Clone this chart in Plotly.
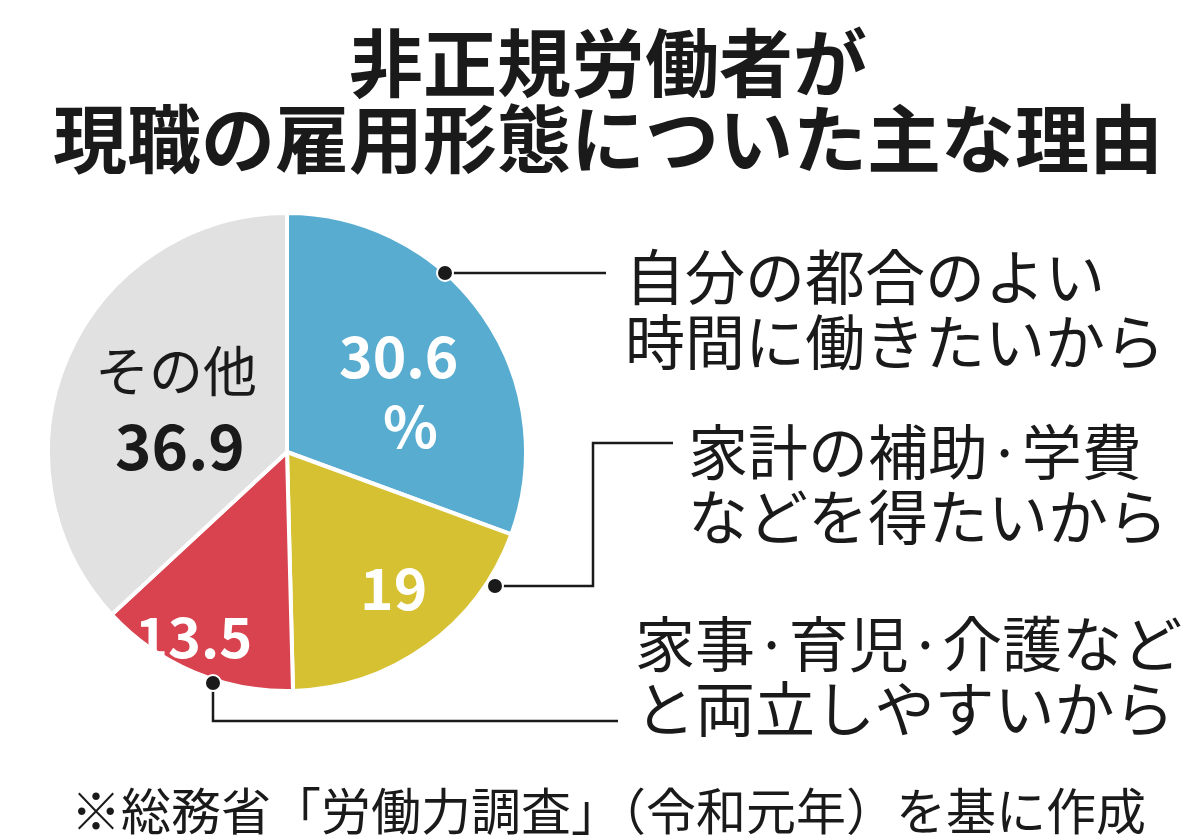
import plotly.graph_objects as go

W, H = 1200, 838
categories = ["自分の都合のよい時間に働きたいから", "家計の補助・学費などを得たいから", "家事・育児・介護などと両立しやすいから", "その他"]
values = [30.6, 19, 13.5, 36.9]
colors = ["#58acd0", "#d6c133", "#d8434f", "#e1e1e1"]

def px(x, y):
    return x / W, 1 - y / H

fig = go.Figure(go.Pie(
    labels=categories, values=values, sort=False, direction="clockwise", rotation=0,
    marker=dict(colors=colors, line=dict(color="white", width=4)),
    textinfo="none", hoverinfo="label+value",
    domain=dict(x=[40 / W, 518 / W], y=[1 - 684 / H, 1 - 204 / H]),
    showlegend=False,
))

F = "Noto Sans CJK JP"
ann = []
def text(x, y, s, size, color="#1a1a1a", bold=False, anchor="center"):
    xx, yy = px(x, y)
    ann.append(dict(x=xx, y=yy, xref="paper", yref="paper", text=f"<b>{s}</b>" if bold else s,
                    showarrow=False, xanchor=anchor, yanchor="middle",
                    font=dict(family=F, size=size, color=color)))

text(600, 50, "非正規労働者が", 74, bold=True)
text(600, 127, "現職の雇用形態についた主な理由", 74, bold=True)
text(615, 265, "自分の都合のよい", 60, anchor="left")
text(615, 330, "時間に働きたいから", 60, anchor="left")
text(678, 440, "家計の補助·学費", 60, anchor="left")
text(678, 505, "などを得たいから", 60, anchor="left")
text(625, 632, "家事·育児·介護など", 60, anchor="left")
text(625, 697, "と両立しやすいから", 60, anchor="left")
text(600, 800, "※総務省「労働力調査」（令和元年）を基に作成", 50)
text(390, 345, f"{values[0]}", 57, "white", True)
text(402, 415, "%", 57, "white", True)
text(385, 577, f"{values[1]:g}", 57, "white", True)
text(185, 625, f"{values[2]}", 56, "white", True)
text(168, 360, "その他", 54)
text(172, 435, f"{values[3]}", 62, bold=True)

shapes = []
def line(pts):
    path = "M " + " L ".join(f"{px(x,y)[0]},{px(x,y)[1]}" for x, y in pts)
    shapes.append(dict(type="path", path=path, xref="paper", yref="paper", line=dict(color="#1a1a1a", width=2.5)))
def dot(x, y, r=8):
    x0, y0 = px(x - r, y + r); x1, y1 = px(x + r, y - r)
    shapes.append(dict(type="circle", xref="paper", yref="paper", x0=x0, y0=y0, x1=x1, y1=y1,
                       fillcolor="#1a1a1a", line=dict(color="white", width=2)))
line([(437, 265), (598, 265)])
line([(487, 578), (585, 578), (585, 435), (665, 435)])
line([(205, 675), (205, 713), (610, 713)])
dot(437, 265); dot(487, 578); dot(205, 675)

fig.update_layout(width=W, height=H, margin=dict(l=0, r=0, t=0, b=0),
                  paper_bgcolor="white", plot_bgcolor="white", annotations=ann, shapes=shapes)
fig.write_html("out.html")
